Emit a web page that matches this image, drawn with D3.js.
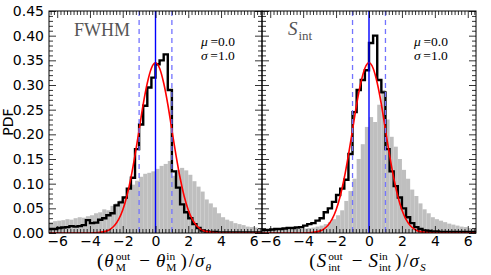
<!DOCTYPE html>
<html>
<head>
<meta charset="utf-8">
<script src="https://cdn.jsdelivr.net/npm/d3@7"></script>
<style>
    body { margin: 0; background: #fff; }
    svg { display: block; }
    .tick text { font-family: "DejaVu Sans", sans-serif; font-size: 14px; fill: #000; }
</style>
</head>
<body>
<svg id="chart" width="491" height="275"></svg>
<script>
// ============================================
// DATA
// ============================================

// left edges of the histogram bins, width 0.25
const binWidth = 0.25;
const binLefts = d3.range(-6.5, 6.5, binWidth);

const fwhmGrey = [
    0.022, 0.024, 0.025, 0.026, 0.028, 0.027, 0.030, 0.032, 0.031, 0.034,
    0.036, 0.040, 0.042, 0.048, 0.046, 0.055, 0.060, 0.066, 0.074, 0.088,
    0.098, 0.106, 0.114, 0.120, 0.122, 0.125, 0.130, 0.136, 0.140, 0.146,
    0.116, 0.128, 0.132, 0.127, 0.118, 0.105, 0.094, 0.084, 0.068, 0.060,
    0.052, 0.040, 0.032, 0.027, 0.024, 0.020, 0.018, 0.016, 0.013, 0.012,
    0.011, 0.010
];
const fwhmBlack = [
    0.008, 0.008, 0.010, 0.011, 0.012, 0.014, 0.013, 0.014, 0.016, 0.026,
    0.020, 0.021, 0.027, 0.030, 0.036, 0.040, 0.056, 0.062, 0.072, 0.090,
    0.112, 0.170, 0.220, 0.258, 0.295, 0.315, 0.342, 0.350, 0.362, 0.290,
    0.125, 0.092, 0.058, 0.042, 0.030, 0.018, 0.010, 0.005, 0.003, 0.002,
    0.002, 0.001, 0.001, 0.001, 0.001, 0.001, 0.001, 0.001, 0.001, 0.001,
    0.001, 0.001
];
const sintGrey = [
    0.007, 0.007, 0.006, 0.007, 0.007, 0.008, 0.007, 0.008, 0.008, 0.009,
    0.009, 0.010, 0.011, 0.013, 0.015, 0.018, 0.022, 0.028, 0.036, 0.046,
    0.065, 0.085, 0.110, 0.150, 0.180, 0.215, 0.235, 0.225, 0.260, 0.290,
    0.230, 0.195, 0.175, 0.150, 0.128, 0.110, 0.088, 0.075, 0.060, 0.048,
    0.040, 0.032, 0.028, 0.025, 0.022, 0.019, 0.017, 0.015, 0.013, 0.012,
    0.010, 0.009
];
const sintBlack = [
    0.006, 0.006, 0.007, 0.008, 0.008, 0.009, 0.010, 0.010, 0.011, 0.012,
    0.015, 0.018, 0.020, 0.025, 0.030, 0.042, 0.050, 0.063, 0.077, 0.090,
    0.108, 0.160, 0.245, 0.290, 0.310, 0.330, 0.385, 0.400, 0.310, 0.285,
    0.170, 0.125, 0.095, 0.072, 0.050, 0.032, 0.020, 0.012, 0.008, 0.005,
    0.004, 0.003, 0.003, 0.002, 0.002, 0.002, 0.002, 0.002, 0.002, 0.002,
    0.002, 0.002
];

// red reference curve (mu = 0, sigma = 1), sampled points
const gaussX = [-6.5, -5, -4.5, -4, -3.5, -3, -2.75, -2.5, -2.25, -2, -1.75, -1.5, -1.25, -1,
    -0.75, -0.5, -0.25, 0, 0.25, 0.5, 0.75, 1, 1.25, 1.5, 1.75, 2, 2.25, 2.5, 2.75, 3,
    3.5, 4, 4.5, 5, 6.5];
const gaussY = [0, 0, 0, 0.0001, 0.0008, 0.0038, 0.0079, 0.0151, 0.0275, 0.0467, 0.0745, 0.112, 0.158, 0.209,
    0.261, 0.304, 0.334, 0.345, 0.334, 0.304, 0.261, 0.209, 0.158, 0.112, 0.0745, 0.0467, 0.0275, 0.0151, 0.0079, 0.0038,
    0.0008, 0.0001, 0, 0, 0];

const xTicks = [-6, -4, -2, 0, 2, 4, 6];
const yTicks = [0, 0.05, 0.10, 0.15, 0.20, 0.25, 0.30, 0.35, 0.40, 0.45];
const fitLabels = ['0.0', '1.0'];   // mu, sigma

// ============================================
// LAYOUT
// ============================================

const plotTop = 11, plotBottom = 233;
const panels = [
    { grey: fwhmGrey, black: fwhmBlack, left: 49, right: 262, showY: true, title: 'fwhm',
      xlabel: [
        { t: '(' },
        { t: 'θ', it: true, sup: 'out', sub: 'M', gap: 1 },
        { t: '−', gap: 6 },
        { t: 'θ', it: true, sup: 'in', sub: 'M' },
        { t: ')', gap: 1 },
        { t: '/', gap: 1 },
        { t: 'σ', it: true, sub: 'θ', subIt: true }
      ] },
    { grey: sintGrey, black: sintBlack, left: 262, right: 476, showY: false, title: 'sint',
      xlabel: [
        { t: '(' },
        { t: 'S', it: true, sup: 'out', sub: 'int', gap: 1 },
        { t: '−', gap: 6 },
        { t: 'S', it: true, sup: 'in', sub: 'int' },
        { t: ')', gap: 1 },
        { t: '/', gap: 1 },
        { t: 'σ', it: true, sub: 'S', subIt: true }
      ] }
];

const svg = d3.select('#chart');
const serif = '"Liberation Serif", "DejaVu Serif", serif';

const y = d3.scaleLinear().domain([0, 0.45]).range([plotBottom, plotTop]);
const yMinor = d3.range(0, 0.4501, 0.01).filter(v => Math.abs(Math.round(v * 20) - v * 20) > 1e-6);

// ============================================
// HELPERS
// ============================================

// lay out a small math label piece by piece, centred on cx
function mathText(parent, cx, baseline, tokens, size) {
    const g = parent.append('g');
    let x = 0;
    const small = size * 0.6;
    tokens.forEach(tk => {
        x += tk.gap || 0;
        const t = g.append('text')
            .attr('x', x).attr('y', 0)
            .style('font-family', serif)
            .style('font-size', size + 'px')
            .style('font-style', tk.it ? 'italic' : 'normal')
            .text(tk.t);
        x += t.node().getComputedTextLength() + (tk.gap || 0);
        let w = 0;
        if (tk.sup) {
            const s = g.append('text')
                .attr('x', x + 1).attr('y', -size * 0.37)
                .style('font-family', serif)
                .style('font-size', small + 'px')
                .text(tk.sup);
            w = Math.max(w, s.node().getComputedTextLength() + 4);
        }
        if (tk.sub) {
            const s = g.append('text')
                .attr('x', x + 1).attr('y', size * 0.22)
                .style('font-family', serif)
                .style('font-size', small + 'px')
                .style('font-style', tk.subIt ? 'italic' : 'normal')
                .text(tk.sub);
            w = Math.max(w, s.node().getComputedTextLength() + 4);
        }
        x += w;
    });
    g.attr('transform', `translate(${cx - x / 2},${baseline})`);
}

// ============================================
// PANELS
// ============================================

panels.forEach((p, i) => {
    const x = d3.scaleLinear().domain([-6.5, 6.5]).range([p.left, p.right]);
    const g = svg.append('g');

    const clipId = 'clip-' + i;
    svg.append('defs').append('clipPath').attr('id', clipId)
        .append('rect')
        .attr('x', p.left).attr('y', plotTop)
        .attr('width', p.right - p.left).attr('height', plotBottom - plotTop);

    const plot = g.append('g').attr('clip-path', `url(#${clipId})`);

    // grey filled histogram
    plot.selectAll('rect.bar')
        .data(binLefts.map((b, k) => ({ x0: b, v: p.grey[k] })))
        .enter()
        .append('rect')
        .attr('class', 'bar')
        .attr('x', d => x(d.x0))
        .attr('width', d => x(d.x0 + binWidth) - x(d.x0))
        .attr('y', d => y(d.v))
        .attr('height', d => y(0) - y(d.v))
        .attr('fill', '#bfbfbf');

    // black step histogram
    const stepPts = binLefts.map((b, k) => [b, p.black[k]]);
    stepPts.push([6.5, p.black[p.black.length - 1]]);
    plot.append('path')
        .attr('d', d3.line().x(d => x(d[0])).y(d => y(d[1])).curve(d3.curveStepAfter)(stepPts))
        .attr('fill', 'none')
        .attr('stroke', '#000')
        .attr('stroke-width', 2.4)
        .attr('stroke-linejoin', 'miter');

    // red reference gaussian
    plot.append('path')
        .attr('d', d3.line().x((d, k) => x(gaussX[k])).y(d => y(d)).curve(d3.curveMonotoneX)(gaussY))
        .attr('fill', 'none')
        .attr('stroke', '#ff0000')
        .attr('stroke-width', 1.6);

    // mean and +-1 sigma markers
    plot.append('line')
        .attr('x1', x(0)).attr('x2', x(0)).attr('y1', plotTop).attr('y2', plotBottom)
        .attr('stroke', '#0000ff').attr('stroke-width', 1.4);
    [-1, 1].forEach(s => {
        plot.append('line')
            .attr('x1', x(s)).attr('x2', x(s)).attr('y1', plotTop).attr('y2', plotBottom)
            .attr('stroke', '#7373ff').attr('stroke-width', 1.3)
            .attr('stroke-dasharray', '5,4');
    });

    // axes: ticks pointing inward on all four sides
    const xMinor = d3.range(-6.4, 6.45, 0.2).filter(v => Math.abs(v / 2 - Math.round(v / 2)) > 1e-6);

    const addAxis = (axis, tx, ty) => {
        const a = g.append('g').attr('transform', `translate(${tx},${ty})`).call(axis);
        a.select('.domain').remove();
        a.selectAll('line').attr('stroke', '#000').attr('stroke-width', 0.8);
        return a;
    };

    addAxis(d3.axisBottom(x).tickValues(xTicks).tickSize(-7).tickPadding(3.5).tickFormat(d3.format('d')), 0, plotBottom);
    addAxis(d3.axisBottom(x).tickValues(xMinor).tickSize(-4).tickFormat(''), 0, plotBottom);
    addAxis(d3.axisTop(x).tickValues(xTicks).tickSize(-7).tickFormat(''), 0, plotTop);
    addAxis(d3.axisTop(x).tickValues(xMinor).tickSize(-4).tickFormat(''), 0, plotTop);

    const yMajor = d3.axisLeft(y).tickValues(yTicks).tickSize(-7).tickPadding(5)
        .tickFormat(p.showY ? d3.format('.2f') : '');
    addAxis(yMajor, p.left, 0);
    addAxis(d3.axisLeft(y).tickValues(yMinor).tickSize(-4).tickFormat(''), p.left, 0);
    addAxis(d3.axisRight(y).tickValues(yTicks).tickSize(-7).tickFormat(''), p.right, 0);
    addAxis(d3.axisRight(y).tickValues(yMinor).tickSize(-4).tickFormat(''), p.right, 0);

    g.append('rect')
        .attr('x', p.left).attr('y', plotTop)
        .attr('width', p.right - p.left).attr('height', plotBottom - plotTop)
        .attr('fill', 'none').attr('stroke', '#000').attr('stroke-width', 1);

    // panel title
    if (p.title === 'fwhm') {
        g.append('text')
            .attr('x', p.left + 25).attr('y', 36)
            .style('font-family', serif).style('font-size', '18px')
            .attr('fill', '#555')
            .text('FWHM');
    } else {
        const t = g.append('text')
            .attr('x', p.left + 26).attr('y', 35)
            .style('font-family', serif).attr('fill', '#555');
        t.append('tspan').style('font-style', 'italic').style('font-size', '19px').text('S');
        t.append('tspan').attr('dy', 5).attr('dx', 1).style('font-size', '13px').text('int');
    }

    // fit parameters
    const fit = g.append('g').style('font-family', serif).style('font-size', '13.5px');
    ['μ', 'σ'].forEach((sym, k) => {
        const t = fit.append('text').attr('x', p.left + 152).attr('y', 46 + k * 13.5);
        t.append('tspan').style('font-style', 'italic').text(sym);
        t.append('tspan').text('\u2009=' + fitLabels[k]);
    });

    // x label
    mathText(g, (p.left + p.right) / 2, 267, p.xlabel, 19);
});

// y label
svg.append('text')
    .attr('transform', 'translate(13,122) rotate(-90)')
    .attr('text-anchor', 'middle')
    .style('font-family', '"DejaVu Sans", sans-serif')
    .style('font-size', '14px')
    .text('PDF');
</script>
</body>
</html>
